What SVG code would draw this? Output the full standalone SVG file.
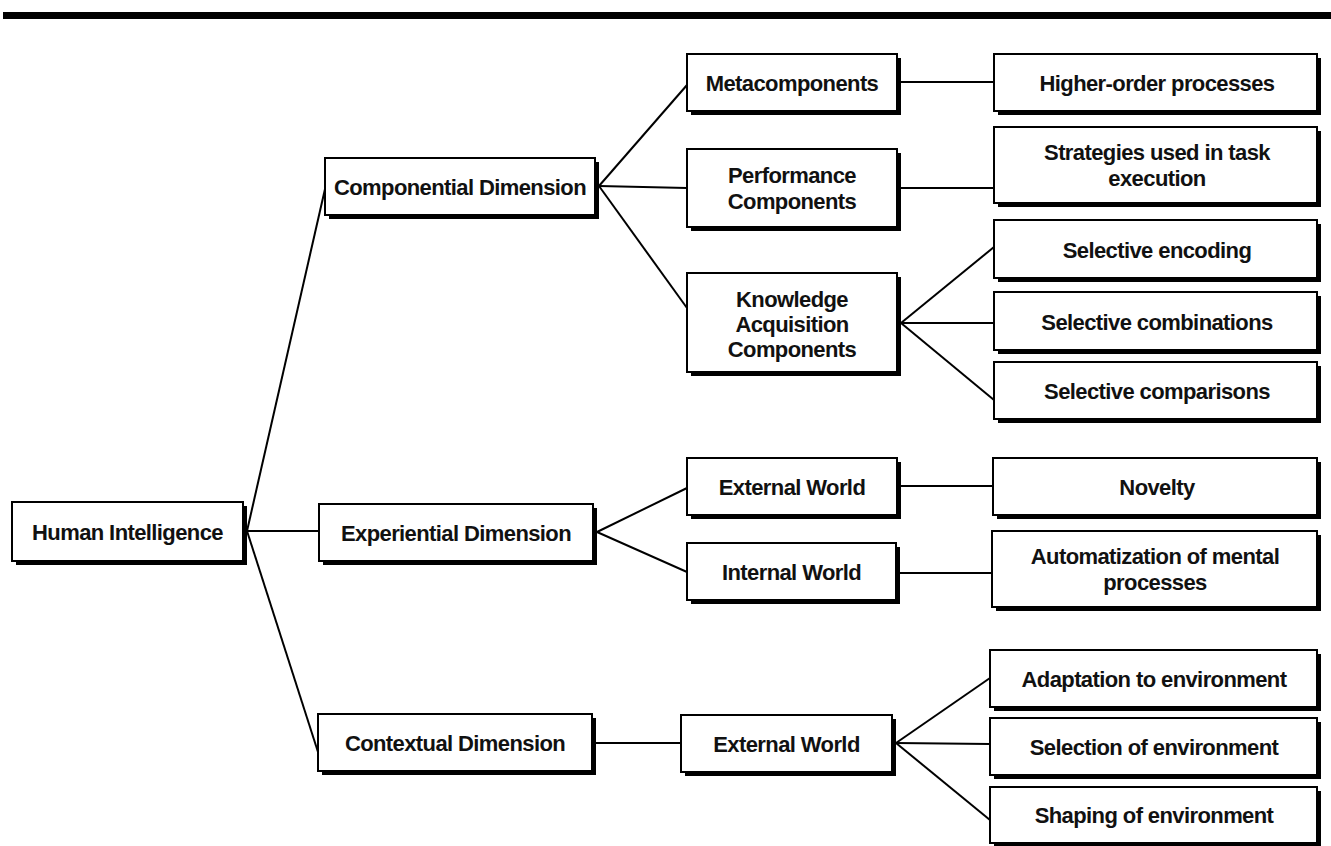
<svg xmlns="http://www.w3.org/2000/svg" width="1331" height="846" viewBox="0 0 1331 846">
  <style>
    .shadow { fill: #000; }
    .box { fill: #fff; stroke: #000; stroke-width: 2; }
    .lbl { font-family: "Liberation Sans", Arial, Helvetica, sans-serif; font-weight: bold; font-size: 22px; letter-spacing: -0.6px; fill: #111; text-anchor: middle; }
    .link { stroke: #000; stroke-width: 2; fill: none; }
  </style>

  <!-- heavy rule across the top -->
  <rect x="3" y="12" width="1328" height="7" fill="#000"/>

  <!-- connectors, drawn first so the box shadows cover their ends -->
  <g id="connectors" class="link">
    <path d="M247 531 L325 189"/>
    <path d="M247 531 L319 531"/>
    <path d="M247 531 L318 752"/>
    <path d="M599 186 L687 85"/>
    <path d="M599 186 L687 188"/>
    <path d="M599 186 L687 308"/>
    <path d="M597 532 L687 488"/>
    <path d="M597 532 L687 572"/>
    <path d="M901 486 L993 486"/>
    <path d="M900 573 L992 573"/>
    <path d="M901 82 L994 82"/>
    <path d="M901 188 L994 188"/>
    <path d="M901 323 L994 247"/>
    <path d="M901 323 L994 323"/>
    <path d="M901 323 L994 400"/>
    <path d="M596 743 L681 743"/>
    <path d="M896 743 L990 678"/>
    <path d="M896 743 L990 744"/>
    <path d="M896 743 L990 820"/>
  </g>

  <!-- root -->
  <g id="human-intelligence">
    <rect class="shadow" x="16" y="506" width="231" height="59"/>
    <rect class="box" x="12" y="502" width="231" height="59"/>
    <text class="lbl" x="127.5" y="539.5">Human Intelligence</text>
  </g>

  <!-- dimensions -->
  <g id="componential">
    <rect class="shadow" x="329" y="162" width="270" height="57"/>
    <rect class="box" x="325" y="158" width="270" height="57"/>
    <text class="lbl" x="460" y="194.5">Componential Dimension</text>
  </g>
  <g id="experiential">
    <rect class="shadow" x="323" y="508" width="274" height="57"/>
    <rect class="box" x="319" y="504" width="274" height="57"/>
    <text class="lbl" x="456" y="540.5">Experiential Dimension</text>
  </g>
  <g id="contextual">
    <rect class="shadow" x="322" y="718" width="274" height="57"/>
    <rect class="box" x="318" y="714" width="274" height="57"/>
    <text class="lbl" x="455" y="750.5">Contextual Dimension</text>
  </g>

  <!-- sub-theories -->
  <g id="metacomponents">
    <rect class="shadow" x="691" y="58" width="210" height="57"/>
    <rect class="box" x="687" y="54" width="210" height="57"/>
    <text class="lbl" x="792" y="90.5">Metacomponents</text>
  </g>
  <g id="performance">
    <rect class="shadow" x="691" y="153" width="210" height="78"/>
    <rect class="box" x="687" y="149" width="210" height="78"/>
    <text class="lbl" x="792" y="183">Performance</text>
    <text class="lbl" x="792" y="209">Components</text>
  </g>
  <g id="knowledge">
    <rect class="shadow" x="691" y="277" width="210" height="99"/>
    <rect class="box" x="687" y="273" width="210" height="99"/>
    <text class="lbl" x="792" y="307">Knowledge</text>
    <text class="lbl" x="792" y="332">Acquisition</text>
    <text class="lbl" x="792" y="357">Components</text>
  </g>
  <g id="external-world-exp">
    <rect class="shadow" x="691" y="462" width="210" height="57"/>
    <rect class="box" x="687" y="458" width="210" height="57"/>
    <text class="lbl" x="792" y="494.5">External World</text>
  </g>
  <g id="internal-world">
    <rect class="shadow" x="691" y="547" width="209" height="57"/>
    <rect class="box" x="687" y="543" width="209" height="57"/>
    <text class="lbl" x="791.5" y="579.5">Internal World</text>
  </g>
  <g id="external-world-ctx">
    <rect class="shadow" x="685" y="719" width="211" height="57"/>
    <rect class="box" x="681" y="715" width="211" height="57"/>
    <text class="lbl" x="786.5" y="751.5">External World</text>
  </g>

  <!-- processes -->
  <g id="higher-order">
    <rect class="shadow" x="998" y="58" width="323" height="57"/>
    <rect class="box" x="994" y="54" width="323" height="57"/>
    <text class="lbl" x="1157" y="90.5">Higher-order processes</text>
  </g>
  <g id="strategies">
    <rect class="shadow" x="998" y="131" width="323" height="76"/>
    <rect class="box" x="994" y="127" width="323" height="76"/>
    <text class="lbl" x="1157" y="160">Strategies used in task</text>
    <text class="lbl" x="1157" y="186">execution</text>
  </g>
  <g id="selective-encoding">
    <rect class="shadow" x="998" y="224" width="323" height="58"/>
    <rect class="box" x="994" y="220" width="323" height="58"/>
    <text class="lbl" x="1157" y="257.5">Selective encoding</text>
  </g>
  <g id="selective-combinations">
    <rect class="shadow" x="998" y="296" width="323" height="58"/>
    <rect class="box" x="994" y="292" width="323" height="58"/>
    <text class="lbl" x="1157" y="329.5">Selective combinations</text>
  </g>
  <g id="selective-comparisons">
    <rect class="shadow" x="998" y="366" width="323" height="57"/>
    <rect class="box" x="994" y="362" width="323" height="57"/>
    <text class="lbl" x="1157" y="398.5">Selective comparisons</text>
  </g>
  <g id="novelty">
    <rect class="shadow" x="997" y="462" width="324" height="57"/>
    <rect class="box" x="993" y="458" width="324" height="57"/>
    <text class="lbl" x="1157" y="494.5">Novelty</text>
  </g>
  <g id="automatization">
    <rect class="shadow" x="996" y="535" width="325" height="76"/>
    <rect class="box" x="992" y="531" width="325" height="76"/>
    <text class="lbl" x="1155" y="564">Automatization of mental</text>
    <text class="lbl" x="1155" y="590">processes</text>
  </g>
  <g id="adaptation">
    <rect class="shadow" x="994" y="654" width="327" height="57"/>
    <rect class="box" x="990" y="650" width="327" height="57"/>
    <text class="lbl" x="1154" y="686.5">Adaptation to environment</text>
  </g>
  <g id="selection">
    <rect class="shadow" x="994" y="722" width="327" height="57"/>
    <rect class="box" x="990" y="718" width="327" height="57"/>
    <text class="lbl" x="1154" y="754.5">Selection of environment</text>
  </g>
  <g id="shaping">
    <rect class="shadow" x="994" y="791" width="327" height="56"/>
    <rect class="box" x="990" y="787" width="327" height="56"/>
    <text class="lbl" x="1154" y="823">Shaping of environment</text>
  </g>
</svg>
